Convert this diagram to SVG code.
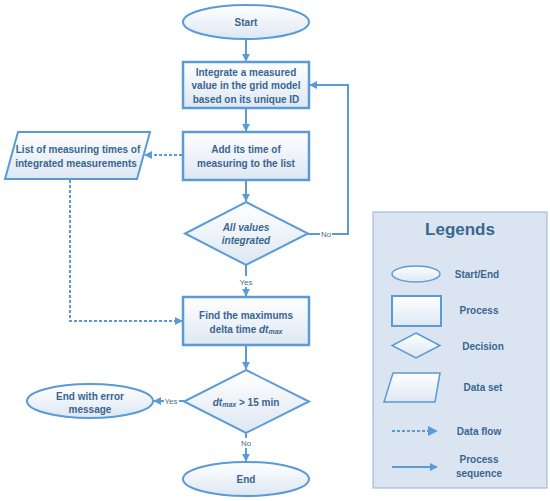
<svg xmlns="http://www.w3.org/2000/svg" width="550" height="501" viewBox="0 0 550 501">
<defs>
<linearGradient id="g" x1="0" y1="0" x2="0" y2="1">
<stop offset="0" stop-color="#ffffff"/>
<stop offset="1" stop-color="#dde7f3"/>
</linearGradient>
<marker id="ah" viewBox="0 0 10 10" refX="9" refY="5" markerWidth="4" markerHeight="4" orient="auto" markerUnits="strokeWidth">
<path d="M0,0 L10,5 L0,10 z" fill="#5b9bd5"/>
</marker>
<marker id="ahs" viewBox="0 0 10 10" refX="9" refY="5" markerWidth="5" markerHeight="5" orient="auto" markerUnits="strokeWidth">
<path d="M0,0 L10,5 L0,10 z" fill="#5b9bd5"/>
</marker>
</defs>
<style>
.shape{fill:url(#g);stroke:#5b9bd5;stroke-width:2}
.proc{fill:url(#g);stroke:#5b9bd5;stroke-width:2.5}
.t{font-family:"Liberation Sans",Arial,sans-serif;font-size:10px;font-weight:bold;fill:#3a6591;text-anchor:middle;dominant-baseline:central}
.lbl{font-family:"Liberation Sans",Arial,sans-serif;font-size:8px;fill:#4a6d94;text-anchor:middle;dominant-baseline:central}
.c{fill:none;stroke:#5b9bd5;stroke-width:2}
.d{fill:none;stroke:#5b9bd5;stroke-width:2;stroke-dasharray:3,2}
.lt{font-family:"Liberation Sans",Arial,sans-serif;font-size:10px;font-weight:bold;fill:#3a6591;text-anchor:middle;dominant-baseline:central}
</style>
<rect width="550" height="501" fill="#ffffff"/>

<g id="connectors">
<line class="c" x1="246" y1="40" x2="246" y2="61" marker-end="url(#ah)"/>
<line class="c" x1="246" y1="109" x2="246" y2="131" marker-end="url(#ah)"/>
<line class="c" x1="246" y1="181" x2="246" y2="201" marker-end="url(#ah)"/>
<polyline class="c" points="308,234 320,234"/>
<polyline class="c" points="332,234 348,234 348,85 310,85" marker-end="url(#ah)"/>
<text class="lbl" x="326" y="234">No</text>
<line class="c" x1="246" y1="265" x2="246" y2="276"/>
<text class="lbl" x="246" y="282">Yes</text>
<line class="c" x1="246" y1="287" x2="246" y2="296" marker-end="url(#ah)"/>
<line class="d" x1="182" y1="155" x2="145" y2="155" marker-end="url(#ah)"/>
<polyline class="d" points="70,180 70,321 182,321" marker-end="url(#ah)"/>
<line class="c" x1="246" y1="346" x2="246" y2="369" marker-end="url(#ah)"/>
<line class="c" x1="184" y1="401" x2="179" y2="401"/>
<text class="lbl" x="171" y="401">Yes</text>
<line class="c" x1="164" y1="401" x2="154" y2="401" marker-end="url(#ah)"/>
<line class="c" x1="246" y1="433" x2="246" y2="438"/>
<text class="lbl" x="246" y="443">No</text>
<line class="c" x1="246" y1="448" x2="246" y2="461" marker-end="url(#ah)"/>
</g>

<g id="start">
<ellipse class="shape" cx="246" cy="22" rx="63" ry="17"/>
<text class="t" x="246" y="22">Start</text>
</g>

<g id="integrate">
<rect class="proc" x="183" y="62" width="126" height="46"/>
<text class="t" x="246" y="72">Integrate a measured</text>
<text class="t" x="246" y="85.5">value in the grid model</text>
<text class="t" x="246" y="99">based on its unique ID</text>
</g>

<g id="addtime">
<rect class="proc" x="183" y="132" width="126" height="48"/>
<text class="t" x="246" y="149">Add its time of</text>
<text class="t" x="246" y="163">measuring to the list</text>
</g>

<g id="list">
<polygon class="shape" points="18,132 150,132 137,179 5,179"/>
<text class="t" x="78" y="149">List of measuring times of</text>
<text class="t" x="76" y="163">integrated measurements</text>
</g>

<g id="allvalues">
<polygon class="shape" points="246,202 308,233.5 246,265 185,233.5"/>
<text class="t" x="246" y="227" font-style="italic">All values</text>
<text class="t" x="246" y="240" font-style="italic">integrated</text>
</g>

<g id="findmax">
<rect class="proc" x="183" y="297" width="126" height="48"/>
<text class="t" x="246" y="315">Find the maximums</text>
<text class="t" x="246" y="329">delta time <tspan font-style="italic">dt</tspan><tspan font-style="italic" font-size="7" dy="2">max</tspan></text>
</g>

<g id="check">
<polygon class="shape" points="246,370 309,401.5 246,433 184,401.5"/>
<text class="t" x="246" y="402"><tspan font-style="italic">dt</tspan><tspan font-style="italic" font-size="7" dy="2">max</tspan><tspan dy="-2"> &gt; 15 min</tspan></text>
</g>

<g id="error">
<ellipse class="shape" cx="90" cy="401" rx="63" ry="17"/>
<text class="t" x="90" y="396">End with error</text>
<text class="t" x="90" y="409">message</text>
</g>

<g id="end">
<ellipse class="shape" cx="246" cy="479" rx="63" ry="17"/>
<text class="t" x="246" y="479">End</text>
</g>

<g id="legend">
<rect x="373" y="212" width="174" height="276" fill="#dbe5f1" stroke="#9ab0c9" stroke-width="1"/>
<text x="460" y="229" font-family="'Liberation Sans',Arial,sans-serif" font-size="17" font-weight="bold" fill="#3a6591" text-anchor="middle" dominant-baseline="central">Legends</text>
<ellipse cx="416" cy="274" rx="24" ry="8" fill="url(#g)" stroke="#5b9bd5" stroke-width="1.5"/>
<text class="lt" x="477" y="274">Start/End</text>
<rect x="392" y="296" width="49" height="30" fill="url(#g)" stroke="#5b9bd5" stroke-width="2"/>
<text class="lt" x="479" y="310">Process</text>
<polygon points="416,333 440,345.5 416,358 392,345.5" fill="url(#g)" stroke="#5b9bd5" stroke-width="1.5"/>
<text class="lt" x="483" y="346">Decision</text>
<polygon points="393,373 440,373 435,402 384,402" fill="url(#g)" stroke="#5b9bd5" stroke-width="1.5"/>
<text class="lt" x="483" y="387">Data set</text>
<line class="d" x1="392" y1="431" x2="437" y2="431" stroke-width="1.5" marker-end="url(#ahs)"/>
<text class="lt" x="479" y="431">Data flow</text>
<line class="c" x1="392" y1="467" x2="437" y2="467" marker-end="url(#ah)"/>
<text class="lt" x="479" y="459">Process</text>
<text class="lt" x="479" y="473">sequence</text>
</g>
</svg>
